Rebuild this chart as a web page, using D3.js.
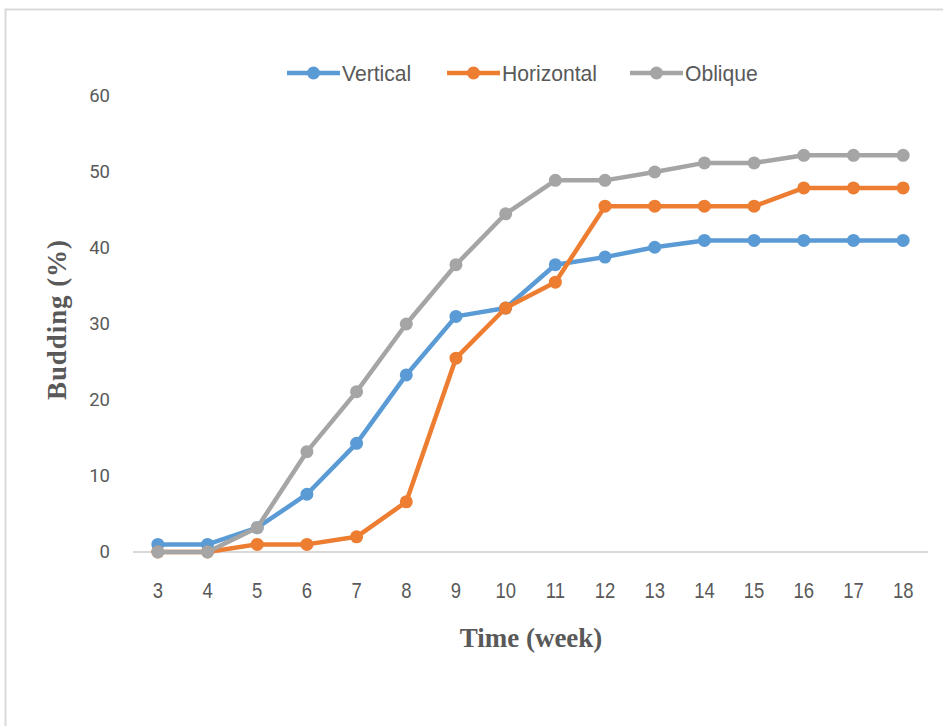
<!DOCTYPE html>
<html>
<head>
	<script src="https://cdn.jsdelivr.net/npm/d3@7"></script>
	<style>
		body { margin: 0; background: #fff; }
	</style>
</head>
<body>
	<svg id="chart"></svg>
	<script>
	// budding (%) by week
	var weeks = [3, 4, 5, 6, 7, 8, 9, 10, 11, 12, 13, 14, 15, 16, 17, 18];
	var vertical   = [1.0, 1.0, 3.2, 7.6, 14.3, 23.3, 31.0, 32.1, 37.8, 38.8, 40.1, 41.0, 41.0, 41.0, 41.0, 41.0];
	var horizontal = [0, 0, 1.0, 1.0, 2.0, 6.6, 25.5, 32.1, 35.5, 45.5, 45.5, 45.5, 45.5, 47.9, 47.9, 47.9];
	var oblique    = [0, 0, 3.2, 13.2, 21.1, 30.0, 37.8, 44.5, 48.9, 48.9, 50.0, 51.2, 51.2, 52.2, 52.2, 52.2];
	var seriesNames = ["Vertical", "Horizontal", "Oblique"];
	var seriesColors = ["#5B9BD5", "#ED7D31", "#A5A5A5"];
	var yTicks = [0, 10, 20, 30, 40, 50, 60];

	var series = [vertical, horizontal, oblique];

	var width = 943, height = 726;
	var svg = d3.select("#chart").attr("width", width).attr("height", height);

	// outer frame
	svg.append("rect")
		.attr("x", 5.5).attr("y", 9.5)
		.attr("width", 960).attr("height", 760)
		.attr("fill", "none")
		.attr("stroke", "#d9d9d9")
		.attr("stroke-width", 2);

	var x = d3.scalePoint().domain(weeks).range([133, 928]).padding(0.5);
	var y = d3.scaleLinear().domain([0, 60]).range([552, 96]);

	// y labels
	svg.append("g").selectAll("text")
		.data(yTicks)
		.enter().append("text")
		.attr("x", 110)
		.attr("y", function (d) { return y(d); })
		.attr("dy", "0.35em")
		.attr("text-anchor", "end")
		.style("font-family", "Roboto, 'Liberation Sans', sans-serif")
		.style("font-size", "18.5px")
		.style("fill", "#595959")
		.text(function (d) { return d; });

	// x axis line
	svg.append("line")
		.attr("x1", 133).attr("x2", 928)
		.attr("y1", y(0)).attr("y2", y(0))
		.attr("stroke", "#d9d9d9")
		.attr("stroke-width", 2);

	// x labels (narrow look)
	svg.append("g").selectAll("text")
		.data(weeks)
		.enter().append("text")
		.attr("transform", function (d) { return "translate(" + x(d) + ",590) scale(0.84,1)"; })
		.attr("dy", "0.35em")
		.attr("text-anchor", "middle")
		.style("font-family", "'Liberation Sans', sans-serif")
		.style("font-size", "22px")
		.style("fill", "#595959")
		.text(function (d) { return d; });

	// axis titles
	svg.append("text")
		.attr("x", 531).attr("y", 638)
		.attr("dy", "0.35em")
		.attr("text-anchor", "middle")
		.style("font-family", "'Liberation Serif', serif")
		.style("font-weight", "bold")
		.style("font-size", "27px")
		.style("fill", "#595959")
		.text("Time (week)");

	svg.append("text")
		.attr("transform", "translate(57,320) rotate(-90)")
		.attr("dy", "0.35em")
		.attr("text-anchor", "middle")
		.attr("textLength", 160)
		.attr("lengthAdjust", "spacing")
		.style("font-family", "'Liberation Serif', serif")
		.style("font-weight", "bold")
		.style("font-size", "27px")
		.style("fill", "#595959")
		.text("Budding (%)");

	var line = d3.line()
		.x(function (d, i) { return x(weeks[i]); })
		.y(function (d) { return y(d); });

	series.forEach(function (s, k) {
		var g = svg.append("g");
		g.append("path")
			.attr("d", line(s))
			.attr("fill", "none")
			.attr("stroke", seriesColors[k])
			.attr("stroke-width", 4.5)
			.attr("stroke-linejoin", "round");
		g.selectAll("circle")
			.data(s)
			.enter().append("circle")
			.attr("cx", function (d, i) { return x(weeks[i]); })
			.attr("cy", function (d) { return y(d); })
			.attr("r", 6.5)
			.attr("fill", seriesColors[k]);
	});

	// legend
	var legendX = [287, 447, 630];
	var leg = svg.append("g").selectAll("g")
		.data(seriesNames)
		.enter().append("g")
		.attr("transform", function (d, i) { return "translate(" + legendX[i] + ",73)"; });
	leg.append("line")
		.attr("x1", 0).attr("x2", 53)
		.attr("stroke", function (d, i) { return seriesColors[i]; })
		.attr("stroke-width", 4.5);
	leg.append("circle")
		.attr("cx", 26.5)
		.attr("r", 6.5)
		.attr("fill", function (d, i) { return seriesColors[i]; });
	leg.append("text")
		.attr("transform", "translate(55,0) scale(0.96,1)")
		.attr("dy", "0.35em")
		.style("font-family", "'Liberation Sans', sans-serif")
		.style("font-size", "22px")
		.style("fill", "#595959")
		.text(function (d) { return d; });
	</script>
</body>
</html>
